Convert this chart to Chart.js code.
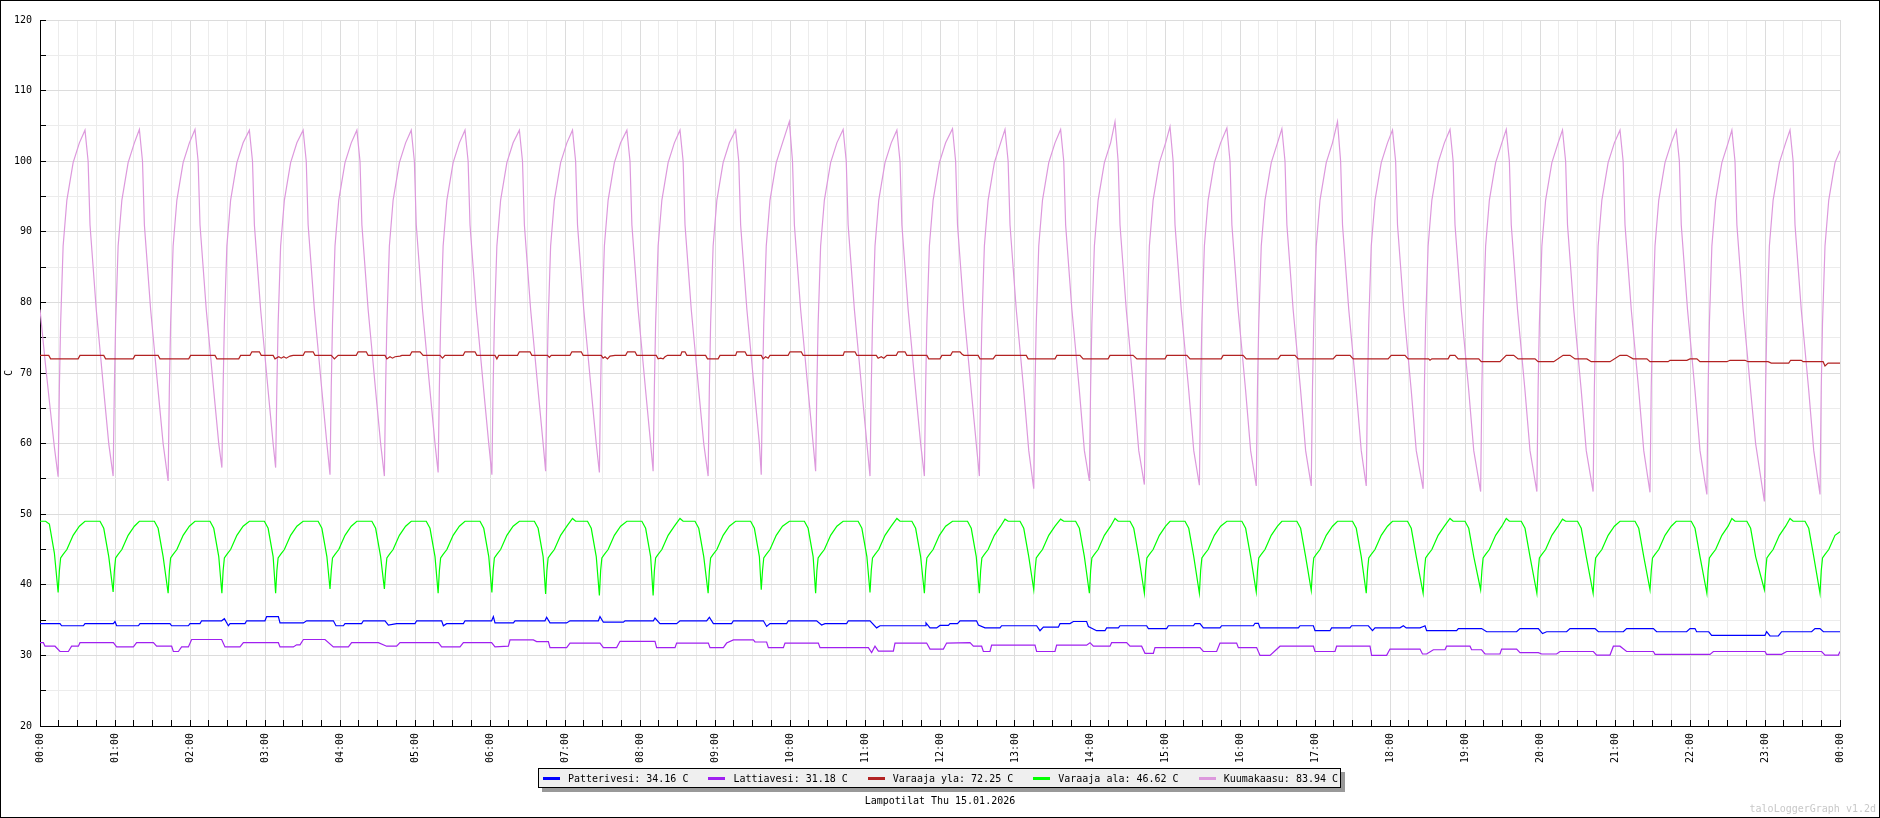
<!DOCTYPE html>
<html>
<head>
<meta charset="utf-8">
<script src="https://cdn.jsdelivr.net/npm/chart.js@4.4.1/dist/chart.umd.min.js"></script>
<style>
body { margin: 0; background: #fff; }
#wrap { position: relative; width: 1880px; height: 818px; font-family: "DejaVu Sans Mono", monospace; font-size: 10px; color: #000; }
#frame { position: absolute; left: 0; top: 0; width: 1880px; height: 818px; box-sizing: border-box; border: 1px solid #000; pointer-events: none; }
#legend { position: absolute; left: 538px; top: 768px; height: 18px; display: flex; align-items: center; white-space: nowrap;
  border: 1px solid #000; background: #efefef; box-shadow: 4px 4px 0 #999; padding: 0 2px 0 4px; }
#legend .item { display: flex; align-items: center; margin-right: 20px; }
#legend .item:last-child { margin-right: 0; }
#legend .swatch { width: 17px; height: 3px; margin-right: 8px; }
#title { position: absolute; left: 0; width: 1880px; top: 795px; text-align: center; }
#mark { position: absolute; right: 4px; top: 803px; color: #c8c8c8; }
</style>
</head>
<body>
<div id="wrap">
  <canvas id="chart" width="1880" height="818"></canvas>
  <div id="legend"></div>
  <div id="title"></div>
  <div id="mark">taloLoggerGraph v1.2d</div>
  <div id="frame"></div>
</div>
<script>
// minutes from midnight
const hourLabels = ['00:00','01:00','02:00','03:00','04:00','05:00','06:00','07:00','08:00','09:00','10:00','11:00',
    '12:00','13:00','14:00','15:00','16:00','17:00','18:00','19:00','20:00','21:00','22:00','23:00','00:00'];

const seriesNames = ['Patterivesi', 'Lattiavesi', 'Varaaja yla', 'Varaaja ala', 'Kuumakaasu'];
const legendValues = ['34.16', '31.18', '72.25', '46.62', '83.94'];
const chartTitle = 'Lampotilat Thu 15.01.2026';

// shared time points for the compressor cycles (kuumakaasu + varaaja ala)
const cycleMinutes = [
    0, 4.5, 7.5, 11.5,
    14.5, 15.5, 16.5, 18.5, 21.5, 26.5, 31.5, 36, 38.5, 40, 45, 48, 51, 55,
    58.5, 59.5, 60.5, 62.5, 65.5, 70.5, 75.5, 79.5, 82, 83.5, 88.5, 91.5, 94.5, 98.5,
    102.5, 103.5, 104.5, 106.5, 109.5, 114.5, 119.5, 124, 126.5, 128, 133, 136, 139, 143,
    145.5, 146.5, 147.5, 149.5, 152.5, 157.5, 162.5, 167.5, 170, 171.5, 176.5, 179.5, 182.5, 186.5,
    188.5, 189.5, 190.5, 192.5, 195.5, 200.5, 205.5, 210.5, 213, 214.5, 219.5, 222.5, 225.5, 229.5,
    232, 233, 234, 236, 239, 244, 249, 253.5, 256, 257.5, 262.5, 265.5, 268.5, 272.5,
    275.5, 276.5, 277.5, 279.5, 282.5, 287.5, 292.5, 297, 299.5, 301, 306, 309, 312, 316,
    318.5, 319.5, 320.5, 322.5, 325.5, 330.5, 335.5, 340, 342.5, 344, 349, 352, 355, 359,
    361.5, 362.5, 363.5, 365.5, 368.5, 373.5, 378.5, 383.5, 386, 387.5, 392.5, 395.5, 398.5, 402.5,
    404.5, 405.5, 406.5, 408.5, 411.5, 416.5, 421.5, 426, 428.5, 430, 435, 438, 441, 445,
    447.5, 448.5, 449.5, 451.5, 454.5, 459.5, 464.5, 469.5, 472, 473.5, 478.5, 481.5, 484.5, 488.5,
    490.5, 491.5, 492.5, 494.5, 497.5, 502.5, 507.5, 512, 514.5, 516, 521, 524, 527, 531,
    534.5, 535.5, 536.5, 538.5, 541.5, 546.5, 551.5, 556.5, 559, 560.5, 565.5, 568.5, 571.5, 575.5,
    577, 578, 579, 581, 584, 589, 594, 599.5, 602, 603.5, 608.5, 611.5, 614.5, 618.5,
    620.5, 621.5, 622.5, 624.5, 627.5, 632.5, 637.5, 642.5, 645, 646.5, 651.5, 654.5, 657.5, 661.5,
    664, 665, 666, 668, 671, 676, 681, 685.5, 688, 689.5, 694.5, 697.5, 700.5, 704.5,
    707.5, 708.5, 709.5, 711.5, 714.5, 719.5, 724.5, 730, 732.5, 734, 739, 742, 745, 749,
    751.5, 752.5, 753.5, 755.5, 758.5, 763.5, 768.5, 772, 774.5, 776, 781, 784, 787, 791,
    795, 796, 797, 799, 802, 807, 812, 816.5, 819, 820.5, 825.5, 828.5, 831.5, 835.5,
    839.5, 840.5, 841.5, 843.5, 846.5, 851.5, 856.5, 860, 862.5, 864, 869, 872, 875, 879,
    883.5, 884.5, 885.5, 887.5, 890.5, 895.5, 900.5, 904, 906.5, 908, 913, 916, 919, 923,
    927.5, 928.5, 929.5, 931.5, 934.5, 939.5, 944.5, 949.5, 952, 953.5, 958.5, 961.5, 964.5, 968.5,
    973, 974, 975, 977, 980, 985, 990, 993.5, 996, 997.5, 1002.5, 1005.5, 1008.5, 1012.5,
    1017, 1018, 1019, 1021, 1024, 1029, 1034, 1038, 1040.5, 1042, 1047, 1050, 1053, 1057,
    1061, 1062, 1063, 1065, 1068, 1073, 1078, 1082, 1084.5, 1086, 1091, 1094, 1097, 1101,
    1106.5, 1107.5, 1108.5, 1110.5, 1113.5, 1118.5, 1123.5, 1128, 1130.5, 1132, 1137, 1140, 1143, 1147,
    1152.5, 1153.5, 1154.5, 1156.5, 1159.5, 1164.5, 1169.5, 1173, 1175.5, 1177, 1182, 1185, 1188, 1192,
    1197.5, 1198.5, 1199.5, 1201.5, 1204.5, 1209.5, 1214.5, 1218, 1220.5, 1222, 1227, 1230, 1233, 1237,
    1242.5, 1243.5, 1244.5, 1246.5, 1249.5, 1254.5, 1259.5, 1264, 1266.5, 1268, 1273, 1276, 1279, 1283,
    1288, 1289, 1290, 1292, 1295, 1300, 1305, 1309, 1311.5, 1313, 1318, 1321, 1324, 1328,
    1333.5, 1334.5, 1335.5, 1337.5, 1340.5, 1345.5, 1350.5, 1353.5, 1356, 1357.5, 1362.5, 1365.5, 1368.5, 1372.5,
    1379.5, 1380.5, 1381.5, 1383.5, 1386.5, 1391.5, 1396.5, 1400, 1402.5, 1404, 1409, 1412, 1415, 1419,
    1424, 1425, 1426, 1428, 1431, 1436, 1440
];

const kuumakaasu = [
    79, 71, 66, 59.5,
    55.3, 68, 77, 88, 94.5, 99.8, 102.6, 104.4, 100, 91, 79, 73.3, 67.5, 60,
    55.4, 68, 77, 88, 94.5, 99.8, 102.6, 104.5, 100, 91, 79, 73.3, 67.5, 60,
    54.7, 68, 77, 88, 94.5, 99.8, 102.6, 104.5, 100, 91, 79, 73.3, 67.5, 60,
    56.6, 68, 77, 88, 94.5, 99.8, 102.6, 104.4, 100, 91, 79, 73.3, 67.5, 60,
    56.6, 68, 77, 88, 94.5, 99.8, 102.6, 104.4, 100, 91, 79, 73.3, 67.5, 60,
    55.6, 68, 77, 88, 94.5, 99.8, 102.6, 104.4, 100, 91, 79, 73.3, 67.5, 60,
    55.4, 68, 77, 88, 94.5, 99.8, 102.6, 104.4, 100, 91, 79, 73.3, 67.5, 60,
    55.9, 68, 77, 88, 94.5, 99.8, 102.6, 104.4, 100, 91, 79, 73.3, 67.5, 60,
    55.6, 68, 77, 88, 94.5, 99.8, 102.6, 104.4, 100, 91, 79, 73.3, 67.5, 60,
    56.1, 68, 77, 88, 94.5, 99.8, 102.6, 104.4, 100, 91, 79, 73.3, 67.5, 60,
    55.9, 68, 77, 88, 94.5, 99.8, 102.6, 104.4, 100, 91, 79, 73.3, 67.5, 60,
    56.1, 68, 77, 88, 94.5, 99.8, 102.6, 104.4, 100, 91, 79, 73.3, 67.5, 60,
    55.4, 68, 77, 88, 94.5, 99.8, 102.6, 104.4, 100, 91, 79, 73.3, 67.5, 60,
    55.6, 68, 77, 88, 94.5, 99.8, 102.6, 105.6, 100, 91, 79, 73.3, 67.5, 60,
    56.1, 68, 77, 88, 94.5, 99.8, 102.6, 104.5, 100, 91, 79, 73.3, 67.5, 60,
    55.4, 68, 77, 88, 94.5, 99.8, 102.6, 104.4, 100, 91, 79, 73.3, 67.5, 60,
    55.4, 68, 77, 88, 94.5, 99.8, 102.6, 104.6, 100, 91, 79, 73.3, 67.5, 60,
    55.4, 68, 77, 88, 94.5, 99.8, 102.6, 104.5, 100, 91, 79, 73.3, 67.5, 59,
    53.6, 68, 77, 88, 94.5, 99.8, 102.6, 104.5, 100, 91, 79, 73.3, 67.5, 59,
    54.7, 68, 77, 88, 94.5, 99.8, 102.6, 105.6, 100, 91, 79, 73.3, 67.5, 59,
    54.2, 68, 77, 88, 94.5, 99.8, 102.6, 104.9, 100, 91, 79, 73.3, 67.5, 59,
    54.1, 68, 77, 88, 94.5, 99.8, 102.6, 104.7, 100, 91, 79, 73.3, 67.5, 59,
    54, 68, 77, 88, 94.5, 99.8, 102.6, 104.6, 100, 91, 79, 73.3, 67.5, 59,
    54, 68, 77, 88, 94.5, 99.8, 102.6, 105.6, 100, 91, 79, 73.3, 67.5, 59,
    54, 68, 77, 88, 94.5, 99.8, 102.6, 104.4, 100, 91, 79, 73.3, 67.5, 59,
    53.6, 68, 77, 88, 94.5, 99.8, 102.6, 104.5, 100, 91, 79, 73.3, 67.5, 59,
    53.2, 68, 77, 88, 94.5, 99.8, 102.6, 104.5, 100, 91, 79, 73.3, 67.5, 59,
    53.2, 68, 77, 88, 94.5, 99.8, 102.6, 104.4, 100, 91, 79, 73.3, 67.5, 59,
    53.2, 68, 77, 88, 94.5, 99.8, 102.6, 104.4, 100, 91, 79, 73.3, 67.5, 59,
    53.1, 68, 77, 88, 94.5, 99.8, 102.6, 104.4, 100, 91, 79, 73.3, 67.5, 59,
    52.8, 68, 77, 88, 94.5, 99.8, 102.6, 104.4, 100, 91, 79, 73.3, 67.5, 60,
    51.8, 68, 77, 88, 94.5, 99.8, 102.6, 104.4, 100, 91, 79, 73.3, 67.5, 59,
    52.8, 68, 77, 88, 94.5, 99.8, 101.5
];

const varaajaAla = [
    49, 49, 48.6, 44.5,
    38.9, 42, 43.8, 44.3, 45, 47, 48.3, 49, 49, 49, 49, 49, 48, 44,
    39, 42, 43.8, 44.3, 45, 47, 48.3, 49, 49, 49, 49, 49, 48, 44,
    38.8, 42, 43.8, 44.3, 45, 47, 48.3, 49, 49, 49, 49, 49, 48, 44,
    38.8, 42, 43.8, 44.3, 45, 47, 48.3, 49, 49, 49, 49, 49, 48, 44,
    38.8, 42, 43.8, 44.3, 45, 47, 48.3, 49, 49, 49, 49, 49, 48, 44,
    39.4, 42, 43.8, 44.3, 45, 47, 48.3, 49, 49, 49, 49, 49, 48, 44,
    39.4, 42, 43.8, 44.3, 45, 47, 48.3, 49, 49, 49, 49, 49, 48, 44,
    38.8, 42, 43.8, 44.3, 45, 47, 48.3, 49, 49, 49, 49, 49, 48, 44,
    38.9, 42, 43.8, 44.3, 45, 47, 48.3, 49, 49, 49, 49, 49, 48, 44,
    38.7, 42, 43.8, 44.3, 45, 47, 48.3, 49.4, 49, 49, 49, 49, 48, 44,
    38.5, 42, 43.8, 44.3, 45, 47, 48.3, 49, 49, 49, 49, 49, 48, 44,
    38.5, 42, 43.8, 44.3, 45, 47, 48.3, 49.4, 49, 49, 49, 49, 48, 44,
    38.8, 42, 43.8, 44.3, 45, 47, 48.3, 49, 49, 49, 49, 49, 48, 44,
    39.3, 42, 43.8, 44.3, 45, 47, 48.3, 49, 49, 49, 49, 49, 48, 44,
    38.8, 42, 43.8, 44.3, 45, 47, 48.3, 49, 49, 49, 49, 49, 48, 44,
    38.9, 42, 43.8, 44.3, 45, 47, 48.3, 49.4, 49, 49, 49, 49, 48, 44,
    38.8, 42, 43.8, 44.3, 45, 47, 48.3, 49, 49, 49, 49, 49, 48, 44,
    38.8, 42, 43.8, 44.3, 45, 47, 48.3, 49.3, 49, 49, 49, 49, 48, 44,
    39.3, 42, 43.8, 44.3, 45, 47, 48.3, 49.3, 49, 49, 49, 49, 48, 44,
    38.8, 42, 43.8, 44.3, 45, 47, 48.3, 49.4, 49, 49, 49, 49, 48, 44,
    38.8, 42, 43.8, 44.3, 45, 47, 48.3, 49, 49, 49, 49, 49, 48, 44,
    38.8, 42, 43.8, 44.3, 45, 47, 48.3, 49, 49, 49, 49, 49, 48, 44,
    39, 42, 43.8, 44.3, 45, 47, 48.3, 49, 49, 49, 49, 49, 48, 44,
    39.2, 42, 43.8, 44.3, 45, 47, 48.3, 49, 49, 49, 49, 49, 48, 44,
    38.8, 42, 43.8, 44.3, 45, 47, 48.3, 49, 49, 49, 49, 49, 48, 44,
    38.8, 42, 43.8, 44.3, 45, 47, 48.3, 49.4, 49, 49, 49, 49, 48, 44,
    39.3, 42, 43.8, 44.3, 45, 47, 48.3, 49.4, 49, 49, 49, 49, 48, 44,
    38.8, 42, 43.8, 44.3, 45, 47, 48.3, 49.3, 49, 49, 49, 49, 48, 44,
    38.8, 42, 43.8, 44.3, 45, 47, 48.3, 49, 49, 49, 49, 49, 48, 44,
    39.3, 42, 43.8, 44.3, 45, 47, 48.3, 49, 49, 49, 49, 49, 48, 44,
    38.8, 42, 43.8, 44.3, 45, 47, 48.3, 49.4, 49, 49, 49, 49, 48, 44,
    39.3, 42, 43.8, 44.3, 45, 47, 48.3, 49.4, 49, 49, 49, 49, 48, 44,
    38.8, 42, 43.8, 44.3, 45, 47, 47.5
];

// [minute, value]
const varaajaYla = [
    [0,72.5],[7,72.5],[8.5,72],[30.5,72],[32,72.5],[51,72.5],[52.5,72],[74.5,72],[76,72.5],[94.5,72.5],[96,72],
    [119,72],[120.5,72.5],[140,72.5],[141.5,72],[159,72],[160.5,72.5],[168,72.5],[169.5,73],[175.5,73],[177,72.5],
    [186.5,72.5],[188,72],[191,72.3],[193,72.1],[195,72.3],[197,72.1],[200,72.4],[202.5,72.5],[210.5,72.5],[212,73],
    [218.5,73],[220,72.5],[233,72.5],[235.5,72],[238.5,72.5],[253,72.5],[254.5,73],[261,73],[262.5,72.5],[276,72.5],
    [277.5,72],[280,72.3],[282,72.1],[284,72.3],[288,72.4],[289.5,72.5],[296,72.5],[297.5,73],[304,73],[306.5,72.5],
    [320,72.5],[322,72.1],[324,72.5],[338.5,72.5],[340,73],[348,73],[349.5,72.5],[364,72.5],[365.5,72],[367,72.5],
    [382,72.5],[383.5,73],[392,73],[393.5,72.5],[406,72.5],[407.5,72.2],[409,72.5],[424,72.5],[425.5,73],[433,73],
    [434.5,72.5],[449,72.5],[450.5,72.1],[452,72.3],[454,72],[456,72.4],[460,72.5],[468.5,72.5],[470,73],[476,73],
    [477.5,72.5],[493,72.5],[494.5,72],[496.5,72.1],[498.5,72],[500,72.3],[502,72.5],[512.5,72.5],[513.5,73],[516,73],
    [517.5,72.5],[532.5,72.5],[534,72],[542.5,72],[544,72.5],[556.5,72.5],[557.5,73],[564,73],[565.5,72.5],[577,72.5],
    [578.5,72],[580.5,72.3],[582.5,72.1],[584,72.5],[598.5,72.5],[600,73],[609,73],[610.5,72.5],[642.5,72.5],[643.5,73],
    [652,73],[653.5,72.5],[669,72.5],[670.5,72.1],[673,72.3],[675,72.1],[677.5,72.5],[685,72.5],[686.5,73],[692,73],
    [693.5,72.5],[709.5,72.5],[711,72],[720,72],[721.5,72.5],[728.5,72.5],[730,73],[736,73],[737.5,72.7],[739,72.5],
    [750.5,72.5],[752,72],[762.5,72],[764.5,72.5],[789,72.5],[790.5,72],[812,72],[813.5,72.5],[832,72.5],[834.5,72],
    [854.5,72],[856,72.5],[874.5,72.5],[877.5,72],[900,72],[901.5,72.5],[917.5,72.5],[920,72],[945,72],[946.5,72.5],
    [962.5,72.5],[965,72],[990.5,72],[992.5,72.5],[1004,72.5],[1006.5,72],[1034.5,72],[1037,72.5],[1048,72.5],[1050.5,72],
    [1078.5,72],[1081,72.5],[1092,72.5],[1094.5,72],[1111,72],[1112,71.8],[1113.5,72],[1126.5,72],[1128,72.5],[1132,72.5],
    [1134.5,72],[1151,72],[1153,71.6],[1168,71.6],[1173,72.5],[1179,72.5],[1182.5,72],[1196,72],[1198.5,71.6],[1211,71.6],
    [1218.5,72.5],[1224,72.5],[1228,72],[1237.5,72],[1241,71.6],[1256,71.6],[1264,72.5],[1269.5,72.5],[1274.5,72],[1285.5,72],
    [1288,71.6],[1302.5,71.6],[1304,71.8],[1317.5,71.8],[1320,72],[1325.5,72],[1328,71.6],[1349.5,71.6],[1352,71.8],[1364,71.8],
    [1366.5,71.6],[1382.5,71.6],[1385,71.4],[1399,71.4],[1400.5,71.8],[1409,71.8],[1410.5,71.6],[1426.5,71.6],[1428,71],
    [1430.5,71.4],[1440,71.4]
];

const patterivesi = [
    [0,34.5],[16,34.5],[17.3,34.2],[34.7,34.2],[36,34.5],[58.7,34.5],[60,34.8],[61.3,34.2],[78.7,34.2],[80,34.5],
    [104,34.5],[105.3,34.2],[118.7,34.2],[120,34.5],[128,34.5],[129.3,34.9],[145.3,34.9],[147.5,35.2],[150.7,34.2],[152,34.5],
    [164,34.5],[165.3,34.9],[180,34.9],[181.3,35.5],[190.7,35.5],[192,34.6],[210.7,34.6],[213.3,34.9],[234.7,34.9],[236.8,34.2],
    [242.7,34.2],[244,34.5],[257.3,34.5],[258.7,34.9],[276,34.9],[278.7,34.3],[285.3,34.5],[300,34.5],[301.3,34.9],[321.3,34.9],
    [322.7,34.2],[325.3,34.5],[338.7,34.5],[340,34.9],[361.3,34.9],[362.7,35.5],[364,34.6],[378.7,34.6],[380,34.9],[404,34.9],
    [405.3,35.4],[408,34.6],[421.3,34.6],[424,34.9],[446.7,34.9],[448,35.5],[450.7,34.7],[466.7,34.7],[468,34.9],[490.7,34.9],
    [492,35.3],[496,34.5],[509.3,34.5],[512,34.9],[533.3,34.9],[535.5,35.4],[538.7,34.5],[553.3,34.5],[554.7,34.9],[578.7,34.9],
    [581.3,34.1],[584,34.5],[597.3,34.5],[598.7,34.9],[621.3,34.9],[625.3,34.3],[628,34.5],[645.3,34.5],[646.7,34.9],[664,34.9],
    [669.3,33.9],[672,34.2],[708,34.2],[708.8,34.6],[712,33.9],[717.3,33.9],[720,34.25],[726.7,34.25],[728,34.5],[734,34.5],
    [736,34.9],[749.3,34.9],[750.7,34.3],[756,33.9],[768,33.9],[769.3,34.2],[797.3,34.2],[800,33.5],[802.7,34],[814.7,34],
    [816,34.5],[824,34.5],[826.7,34.8],[837.3,34.8],[838.7,34.1],[845.3,33.5],[852,33.5],[853.3,33.9],[862.7,33.9],[864,34.2],
    [885.3,34.2],[886.7,33.8],[901.3,33.8],[902.7,34.2],[922.7,34.2],[924,34.5],[928,34.5],[930.7,33.9],[944,33.9],[945.3,34.2],
    [970.7,34.2],[972,34.55],[974.7,34.55],[976,33.9],[1006.7,33.9],[1008,34.2],[1018.7,34.2],[1020,33.5],[1032,33.5],[1033.3,33.9],
    [1048,33.9],[1049.3,34.2],[1062.7,34.2],[1066,33.5],[1068,33.9],[1088,33.9],[1090.7,34.2],[1093,33.9],[1104,33.9],[1106.7,34.1],
    [1108,34.2],[1109.3,33.5],[1133.3,33.5],[1134.7,33.8],[1153.3,33.8],[1157.3,33.35],[1181.3,33.35],[1184,33.8],[1198.7,33.8],[1202,33.1],
    [1205.3,33.35],[1221.3,33.35],[1224,33.8],[1244,33.8],[1246.7,33.35],[1266.7,33.35],[1269.3,33.8],[1290.7,33.8],[1293.3,33.35],[1317.3,33.35],
    [1320,33.8],[1324,33.8],[1325.3,33.35],[1335,33.35],[1337.3,32.85],[1380,32.85],[1381.3,33.35],[1384,32.75],[1390.7,32.75],[1393.3,33.35],
    [1417.3,33.35],[1420,33.8],[1424,33.8],[1426.7,33.35],[1440,33.35]
];

const lattiavesi = [
    [0,31.8],[2.7,31.8],[4,31.3],[12,31.3],[16,30.55],[22.7,30.55],[25.3,31.3],[30.7,31.3],[32,31.8],[58.7,31.8],
    [61.3,31.2],[74.7,31.2],[77.3,31.8],[90.7,31.8],[93.3,31.3],[105.3,31.3],[106.7,30.55],[110.7,30.55],[113.3,31.2],[118.7,31.2],
    [121.3,32.25],[145.3,32.25],[148,31.2],[160,31.2],[162.7,31.8],[190.7,31.8],[192,31.2],[202.7,31.2],[205.3,31.5],[208,31.5],
    [210.7,32.25],[228,32.25],[234.7,31.2],[246.7,31.2],[249.3,31.8],[270.7,31.8],[277.3,31.3],[285.3,31.3],[288,31.8],[318.7,31.8],
    [321.3,31.2],[336,31.2],[338.7,31.8],[361.3,31.8],[364,31.2],[374.7,31.3],[376,32.2],[394.7,32.2],[397.3,31.95],[406.7,31.95],
    [408,31.1],[421.3,31.1],[424,31.75],[448,31.75],[450.7,31.1],[461.3,31.1],[464,32],[492,32],[493.3,31.1],[508,31.1],
    [509.3,31.75],[534.7,31.75],[536,31.1],[546.7,31.1],[549.3,31.75],[554.7,32.2],[570.7,32.2],[572,31.9],[581.3,31.9],[582.7,31.1],
    [594.7,31.1],[596,31.75],[622.7,31.75],[624,31.1],[662.7,31.1],[665.3,30.4],[668,31.3],[670.7,30.6],[682.7,30.6],[684,31.75],
    [709.3,31.75],[712,30.9],[722.7,30.9],[725.3,31.75],[744,31.8],[746.7,31.3],[753.3,31.3],[754.7,30.55],[760,30.55],[761.3,31.45],
    [796,31.45],[797.3,30.55],[812,30.55],[813.3,31.45],[837.3,31.45],[840,31.8],[842.7,31.3],[856,31.3],[857.3,31.8],[869.3,31.8],
    [872,31.3],[881.3,31.3],[884,30.3],[890.7,30.3],[892,31.1],[928,31.1],[930.7,30.55],[941.3,30.55],[944,31.75],[957.3,31.75],
    [958.7,31.1],[973.3,31.1],[976,30],[984,30],[992,31.3],[1018.7,31.3],[1020,30.55],[1036,30.55],[1037.3,31.3],[1064,31.3],
    [1065.3,30],[1077.3,30],[1080,30.9],[1104,30.9],[1106,30.2],[1109.3,30.2],[1114.7,30.8],[1124,30.8],[1125.3,31.3],[1144,31.3],
    [1145.3,30.8],[1153.3,30.8],[1156,30.2],[1168,30.2],[1169.3,30.9],[1181.3,30.9],[1184,30.4],[1198.7,30.4],[1201.3,30.2],[1213.3,30.2],
    [1216,30.55],[1242.7,30.55],[1245.3,30.05],[1256,30.05],[1258.7,31.3],[1264,31.3],[1269.3,30.55],[1290.7,30.55],[1292,30.15],[1336,30.15],
    [1338.7,30.55],[1380,30.55],[1381.3,30.15],[1393.3,30.15],[1397.3,30.55],[1425.3,30.55],[1428,30.05],[1438.7,30.05],[1440,30.55]
];

const colors = ['#0000ff', '#a020f0', '#b22222', '#00ff00', '#dd99dd'];

const pairs = list => list.map(p => ({ x: p[0], y: p[1] }));
const onCycle = values => cycleMinutes.map((t, i) => ({ x: t, y: values[i] }));

const seriesData = [pairs(patterivesi), pairs(lattiavesi), pairs(varaajaYla), onCycle(varaajaAla), onCycle(kuumakaasu)];

const monoFont = { family: '"DejaVu Sans Mono", monospace', size: 10 };
const gridColor = major => ctx => (ctx.tick && ctx.tick.value % major === 0) ? '#dcdcdc' : '#ececec';

new Chart(document.getElementById('chart'), {
    type: 'line',
    data: {
        datasets: seriesNames.map((name, i) => ({
            label: name,
            data: seriesData[i],
            borderColor: colors[i],
            backgroundColor: colors[i],
            borderWidth: 1.2,
            pointRadius: 0,
            tension: 0,
            fill: false
        }))
    },
    options: {
        responsive: false,
        devicePixelRatio: 1,
        animation: false,
        layout: { padding: { left: 0, top: 20, right: 40, bottom: 52 } },
        plugins: {
            legend: { display: false },
            title: { display: false },
            tooltip: { enabled: false }
        },
        scales: {
            x: {
                type: 'linear',
                min: 0,
                max: 1440,
                afterFit: scale => { scale.height = 40; },
                ticks: {
                    stepSize: 15,
                    autoSkip: false,
                    minRotation: 90,
                    maxRotation: 90,
                    padding: 13,
                    color: '#000',
                    font: monoFont,
                    callback: v => v % 60 === 0 ? hourLabels[v / 60] : ''
                },
                grid: { color: gridColor(60), tickColor: '#000', tickLength: -6, lineWidth: 1 },
                border: { display: true, color: '#000', width: 1 }
            },
            y: {
                min: 20,
                max: 120,
                afterFit: scale => { scale.width = 40; },
                ticks: {
                    stepSize: 5,
                    padding: 14,
                    color: '#000',
                    font: monoFont,
                    callback: v => v % 10 === 0 ? String(v) : ''
                },
                title: { display: true, text: 'C', color: '#000', font: monoFont, padding: { top: 3, bottom: 0 } },
                grid: { color: gridColor(10), tickColor: '#000', tickLength: -6, lineWidth: 1 },
                border: { display: true, color: '#000', width: 1 }
            }
        }
    }
});

const legend = document.getElementById('legend');
seriesNames.forEach((name, i) => {
    const item = document.createElement('div');
    item.className = 'item';
    item.innerHTML = '<span class="swatch" style="background:' + colors[i] + '"></span><span>' + name + ': ' + legendValues[i] + ' C</span>';
    legend.appendChild(item);
});
document.getElementById('title').textContent = chartTitle;
</script>
</body>
</html>
